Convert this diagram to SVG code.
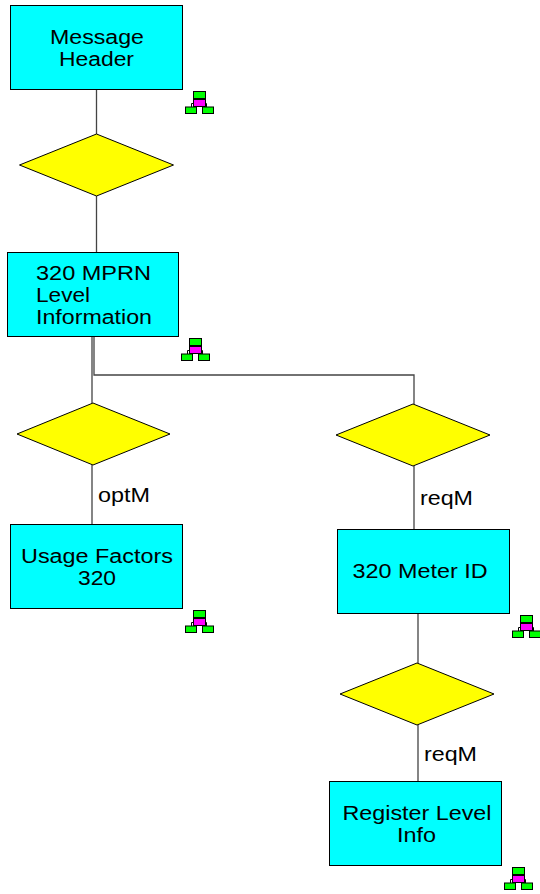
<svg xmlns="http://www.w3.org/2000/svg" width="540" height="894" viewBox="0 0 540 894">
<style>
.n{fill:#00ffff;stroke:#000;stroke-width:1}
.d{fill:#ffff00;stroke:#000;stroke-width:1}
.c{fill:none;stroke:#444;stroke-width:1.3}
text{font-family:"Liberation Sans",Arial,sans-serif;font-size:20px;fill:#000}
.g{fill:#00ff00;stroke:#000;stroke-width:1}
.p{fill:#ff00ff;stroke:#000;stroke-width:1}
.l{fill:none;stroke:#000;stroke-width:1}
</style>
<defs>
<g id="icon">
<path class="l" d="M14 6V12M6.500 17V12.500H9M21.500 17V12.500H19"/>
<rect class="g" x="8.500" y="0.500" width="12" height="7"/>
<rect class="p" x="8.500" y="8.500" width="12" height="7"/>
<rect class="g" x="0.500" y="16" width="11" height="6.500"/>
<rect class="g" x="17.500" y="16" width="11" height="6.500"/>
</g>
</defs>
<g id="connectors">
<path class="c" d="M96.500 90V134M96.500 196V252"/>
<path class="c" d="M92 336V403M92 465V524"/>
<path class="c" d="M94 336V375H414V404"/>
<path class="c" d="M414 466V529M418 613V663M418 725V781"/>
</g>
<g id="message-header"><rect class="n" x="10.500" y="5.500" width="172" height="84"/><text x="50" y="44" textLength="94" lengthAdjust="spacingAndGlyphs">Message</text><text x="59" y="66" textLength="75" lengthAdjust="spacingAndGlyphs">Header</text></g>
<use id="icon-1" href="#icon" x="185" y="91"/>
<g id="decision-1"><polygon class="d" points="96.500,134 173.500,165 96.500,196 19.500,165"/></g>
<g id="mprn"><rect class="n" x="7.500" y="252.500" width="171" height="84"/><text x="36" y="280" textLength="115" lengthAdjust="spacingAndGlyphs">320 MPRN</text><text x="36" y="302" textLength="54" lengthAdjust="spacingAndGlyphs">Level</text><text x="36" y="324" textLength="116" lengthAdjust="spacingAndGlyphs">Information</text></g>
<use id="icon-2" href="#icon" x="181" y="338"/>
<g id="decision-2"><polygon class="d" points="93,403 170,434 93,465 17,434"/></g>
<g id="decision-3"><polygon class="d" points="413,404 490,435 413,466 336,435"/></g>
<text x="98" y="502" textLength="52" lengthAdjust="spacingAndGlyphs">optM</text>
<text x="420" y="505" textLength="53" lengthAdjust="spacingAndGlyphs">reqM</text>
<g id="usage-factors"><rect class="n" x="10.500" y="524.500" width="172" height="84"/><text x="21" y="563" textLength="152" lengthAdjust="spacingAndGlyphs">Usage Factors</text><text x="78" y="585" textLength="38" lengthAdjust="spacingAndGlyphs">320</text></g>
<use id="icon-3" href="#icon" x="185" y="610"/>
<g id="meter-id"><rect class="n" x="337.500" y="529.500" width="172" height="84"/><text x="352.500" y="578" textLength="135" lengthAdjust="spacingAndGlyphs">320 Meter ID</text></g>
<use id="icon-4" href="#icon" x="512" y="615"/>
<g id="decision-4"><polygon class="d" points="417,663 494,694 417,725 340,694"/></g>
<text x="424" y="761" textLength="53" lengthAdjust="spacingAndGlyphs">reqM</text>
<g id="register-level"><rect class="n" x="329.500" y="781.500" width="172" height="84"/><text x="342.500" y="820" textLength="149" lengthAdjust="spacingAndGlyphs">Register Level</text><text x="397" y="842" textLength="39" lengthAdjust="spacingAndGlyphs">Info</text></g>
<use id="icon-5" href="#icon" x="504" y="867"/>
</svg>
